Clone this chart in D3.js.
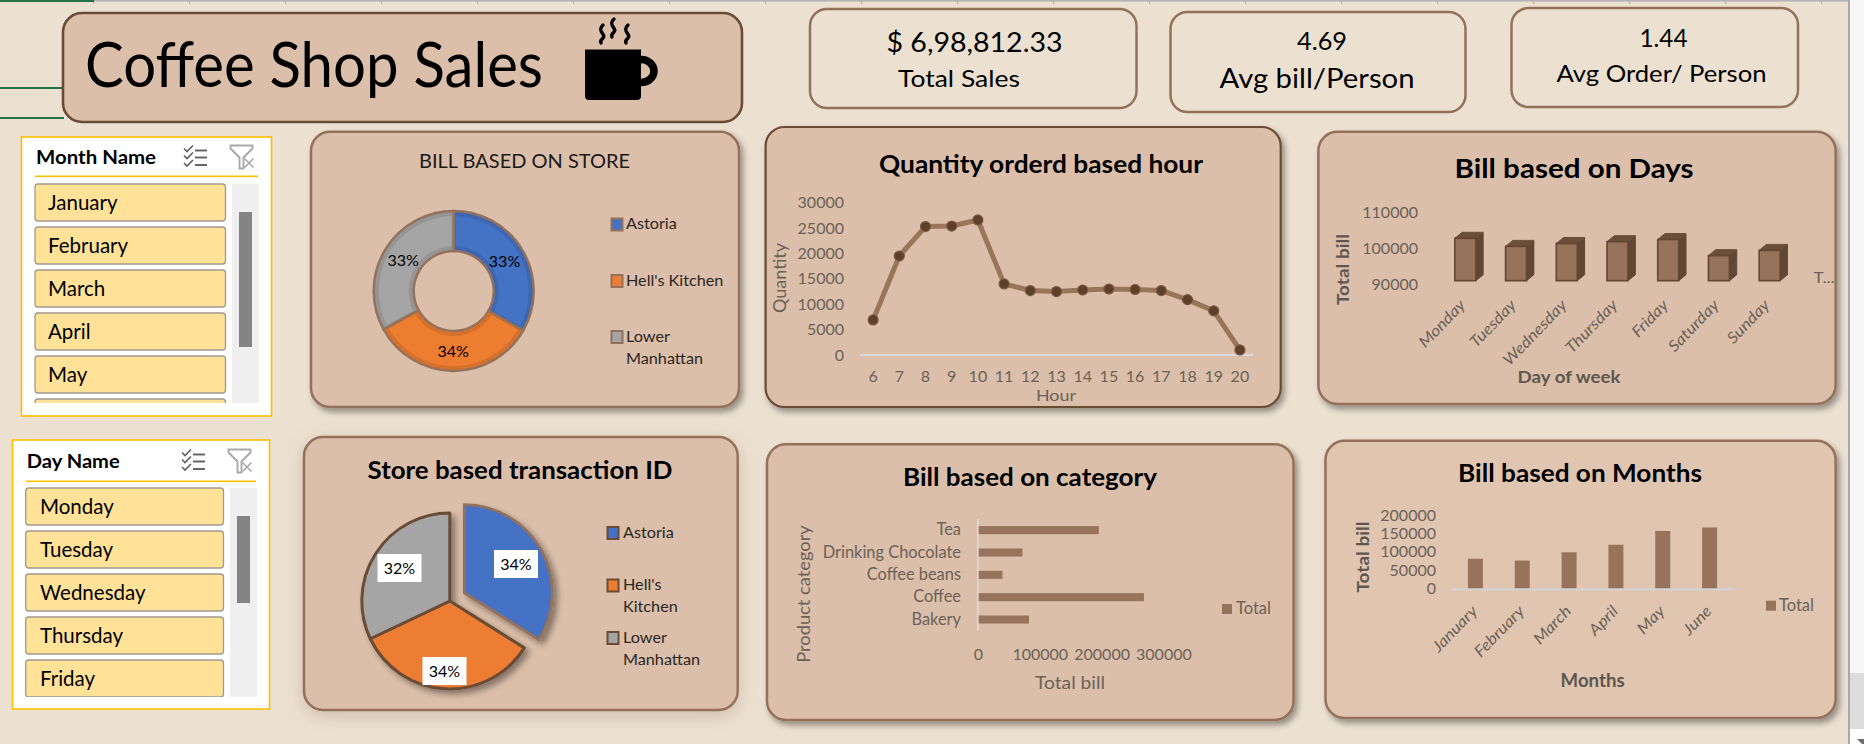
<!DOCTYPE html>
<html><head><meta charset="utf-8">
<style>html,body{margin:0;padding:0;background:#ece1d1;overflow:hidden}svg{display:block}text{font-family:Lato,"Open Sans",sans-serif}</style>
<script src="https://d3js.org/d3.v7.min.js"></script></head><body>
<svg id="c" width="1864" height="744"></svg>
<script>
const kpiValues=["$ 6,98,812.33","4.69","1.44"];
const kpiLabels=["Total Sales","Avg bill/Person","Avg Order/ Person"];
const monthSlicer=["January","February","March","April","May","June"];
const daySlicer=["Monday","Tuesday","Wednesday","Thursday","Friday"];
const stores=["Astoria","Hell's Kitchen","Lower Manhattan"];
const storeBill=[232000,236500,230000];
const storeTransactions=[50600,50700,47800];
const storeColors=["#4472c4","#ed7d31","#a5a5a5"];
const hours=[6,7,8,9,10,11,12,13,14,15,16,17,18,19,20];
const quantity=[6900,19500,25300,25400,26600,14000,12700,12500,12800,13000,12900,12700,10900,8700,1000];
const quantityTicks=[0,5000,10000,15000,20000,25000,30000];
const days=["Monday","Tuesday","Wednesday","Thursday","Friday","Saturday","Sunday"];
const dayBill=[101680,99450,100250,100750,101350,96900,98350];
const dayTicks=[90000,100000,110000];
const categories=["Tea","Drinking Chocolate","Coffee beans","Coffee","Bakery"];
const categoryBill=[195500,72000,39500,268500,82500];
const categoryTicks=[0,100000,200000,300000];
const months=["January","February","March","April","May","June"];
const monthBill=[81000,76000,98500,119000,156500,166000];
const monthTicks=[0,50000,100000,150000,200000];

const svg=d3.select("#c");
const defs=svg.append("defs");
function shadow(id,dx,dy,sd,op,col){
  const f=defs.append("filter").attr("id",id).attr("x","-15%").attr("y","-15%").attr("width","130%").attr("height","130%");
  f.append("feDropShadow").attr("dx",dx).attr("dy",dy).attr("stdDeviation",sd).attr("flood-color",col||"#000").attr("flood-opacity",op);
}
shadow("sh",3,4,3,.38);
shadow("glow",0,5,9,.3,"#8a6a50");
shadow("pieS",4,4,3,.4);
const CARD="#dbbfaa",EDGE="#94715a",DARK="#6a4b35",AX="#6c6157",BAR="#96735a";
function card(x0,y0,x1,y1,o={}){
  return svg.append("rect").attr("x",x0).attr("y",y0).attr("width",x1-x0).attr("height",y1-y0)
    .attr("rx",o.r||19).attr("fill",o.fill||CARD).attr("stroke",o.stroke||EDGE).attr("stroke-width",o.sw||2.5)
    .attr("filter",o.filter?`url(#${o.filter})`:null);
}
function txt(p,x,y,s,o={}){
  const t=p.append("text").attr("x",x).attr("y",y).text(s).attr("font-size",o.size||16)
    .attr("font-weight",o.weight||400).attr("text-anchor",o.anchor||"start").attr("fill",o.fill||"#000");
  if(o.width) t.attr("textLength",o.width).attr("lengthAdjust","spacingAndGlyphs");
  if(o.rot) t.attr("transform",`rotate(${o.rot} ${x} ${y})`);
  return t;
}
function tickStyle(g,size){
  g.select(".domain").remove();g.selectAll(".tick line").remove();
  g.selectAll("text").attr("font-size",size||16).attr("fill",AX).attr("font-family","Lato");
}
function slantLabels(g,dx){
  g.selectAll("text").attr("dy",0).attr("y",0).attr("x",0).attr("text-anchor","end")
    .attr("font-style","italic").attr("font-size",15.5)
    .attr("transform",`translate(${dx},0) rotate(-46) scale(1.12,1)`);
}

/* sheet chrome */
svg.append("rect").attr("width",1864).attr("height",744).attr("fill","#ece1d1");
svg.append("rect").attr("width",1848).attr("height",1.6).attr("fill","#b4b4b4");
d3.range(93,1840,96).forEach(x=>svg.append("rect").attr("x",x).attr("y",0).attr("width",1.2).attr("height",4).attr("fill","#b4b4b4"));
svg.append("rect").attr("width",94).attr("height",2).attr("fill","#217346");
[87,117].forEach(y=>svg.append("rect").attr("y",y).attr("width",64).attr("height",2).attr("fill","#217346"));
svg.append("rect").attr("x",1848).attr("width",16).attr("height",744).attr("fill","#f7f7f7");
svg.append("rect").attr("x",1848).attr("width",2).attr("height",744).attr("fill","#a9a9a9");
svg.append("rect").attr("x",1850).attr("y",673).attr("width",14).attr("height",56).attr("fill","#dcdcdc");
svg.append("rect").attr("x",1850).attr("y",729).attr("width",14).attr("height",15).attr("fill","#fff");
svg.append("path").attr("d","M1857 739L1864 739L1864 744L1862 744Z").attr("fill","#6e6e6e");

/* header */
card(63,13,742,122,{stroke:DARK,sw:2.6});
txt(svg,85,87,"Coffee Shop Sales",{size:62,width:458});
const mug=svg.append("g");
mug.append("path").attr("d","M585 49.5H641V96Q641 100 637 100H589Q585 100 585 96Z").attr("fill","#000");
mug.append("path").attr("d","M641 59.5A13 11.5 0 0 1 641 82.5").attr("fill","none").attr("stroke","#000").attr("stroke-width",7.5);
[[601,25],[612,19],[626,25]].forEach(([x,y])=>mug.append("path")
  .attr("d",`M${x+2} ${y}C${x-5} ${y+6} ${x+6} ${y+10} ${x+2} ${y+13}C${x} ${y+15} ${x-1} ${y+16} ${x} ${y+18}`)
  .attr("fill","none").attr("stroke","#000").attr("stroke-width",3.4).attr("stroke-linecap","round"));

/* KPI cards */
const kpiBoxes=[[810,9,1136.5,108],[1170.5,12,1465.5,112],[1511.5,8,1798,107]];
const kpiValPos=[[974.5,52,176],[1322,50,50],[1663.5,47,48]];
const kpiLabPos=[[959,87,122],[1317,88,195],[1661.5,82,210]];
kpiBoxes.forEach((b,i)=>{
  card(b[0],b[1],b[2],b[3],{fill:"#ece1d1",r:17});
  txt(svg,kpiValPos[i][0],kpiValPos[i][1],kpiValues[i],{size:i?25:27,anchor:"middle",width:kpiValPos[i][2]});
  txt(svg,kpiLabPos[i][0],kpiLabPos[i][1],kpiLabels[i],{size:i==0?23:i==1?27:24,anchor:"middle",width:kpiLabPos[i][2]});
});

/* slicers */
function slicer(o){
  svg.append("rect").attr("x",o.x0).attr("y",o.y0).attr("width",o.x1-o.x0).attr("height",o.y1-o.y0).attr("fill","#fff").attr("stroke","#fdbf00").attr("stroke-width",1.6);
  txt(svg,o.hx,o.hy,o.title,{size:19.5,weight:700,width:o.hw});
  svg.append("rect").attr("x",o.lx0).attr("y",o.ly).attr("width",o.lx1-o.lx0).attr("height",1.6).attr("fill","#fdbf00");
  const ic=svg.append("g").attr("fill","none").attr("stroke","#5f5f5f").attr("stroke-width",1.6);
  [0,7,14.5].forEach(d=>{
    ic.append("path").attr("d",`M${o.ix} ${o.iy+3+d}l3 3l6 -6`);
    ic.append("path").attr("d",`M${o.ix+11} ${o.iy+5+d}h12`).attr("stroke-width",1.9);
  });
  const fl=svg.append("g").attr("fill","none").attr("stroke","#a9a9a9").attr("stroke-width",1.9);
  fl.append("path").attr("d",`M${o.fx} ${o.iy}h22v3l-9 9v11h-4v-11l-9 -9z`);
  fl.append("path").attr("d",`M${o.fx+14} ${o.iy+13}l9 9M${o.fx+23} ${o.iy+13}l-9 9`).attr("stroke-width",1.6);
  const id="clip"+o.title.slice(0,1);
  defs.append("clipPath").attr("id",id).append("rect").attr("x",o.bx0-2).attr("y",o.by-2).attr("width",o.bx1-o.bx0+4).attr("height",o.clipH+2);
  const g=svg.append("g").attr("clip-path",`url(#${id})`);
  o.items.forEach((m,i)=>{
    const y=o.by+43*i;
    g.append("rect").attr("x",o.bx0).attr("y",y).attr("width",o.bx1-o.bx0).attr("height",37).attr("rx",3)
      .attr("fill","#ffe298").attr("stroke","#a09a8c").attr("stroke-width",1.3);
    txt(g,o.tx,y+26,m,{size:20.5});
  });
  svg.append("rect").attr("x",o.sx).attr("y",o.by).attr("width",27).attr("height",o.clipH).attr("fill","#efefef");
  svg.append("rect").attr("x",o.sx+7).attr("y",o.ty0).attr("width",13).attr("height",o.ty1-o.ty0).attr("fill","#848484");
}
slicer({x0:21.5,y0:137,x1:271.5,y1:416,title:"Month Name",hx:36,hy:164,hw:120,lx0:35,lx1:258,ly:175.5,ix:184,iy:145.5,fx:230.5,
  bx0:35,bx1:225.5,by:184,clipH:219,items:monthSlicer,tx:48,sx:232,ty0:212,ty1:347});
slicer({x0:12.5,y0:440,x1:269.5,y1:709,title:"Day Name",hx:26.7,hy:468,hw:93,lx0:26,lx1:256,ly:480.5,ix:182,iy:449.5,fx:228.5,
  bx0:25.7,bx1:223.5,by:488,clipH:209,items:daySlicer,tx:40,sx:230,ty0:516,ty1:603});

/* legend helper */
function legend(entries,sx,tx,size,stroke){
  entries.forEach(e=>{
    svg.append("rect").attr("x",sx).attr("y",e.y).attr("width",11).attr("height",12)
      .attr("fill",e.color).attr("stroke",stroke).attr("stroke-width",2);
    e.lines.forEach((l,i)=>txt(svg,tx,e.y+10.8+i*22,l,{size:size,fill:"#2c2623"}));
  });
}

/* donut */
card(311,131.7,739,407,{filter:"sh"});
txt(svg,524.5,168,"BILL BASED ON STORE",{size:19,anchor:"middle",width:211,fill:"#1c1917"});
const donut=svg.append("g").attr("transform","translate(453.7,291)");
const pieD=d3.pie().sort(null)(storeBill);
const darken=c=>d3.color(c).darker(.28).formatHex();
donut.selectAll(".o").data(pieD).join("path").attr("d",d3.arc().innerRadius(40).outerRadius(80))
  .attr("fill",(d,i)=>darken(storeColors[i])).attr("stroke",EDGE).attr("stroke-width",2.4);
donut.selectAll(".i").data(pieD).join("path").attr("d",d3.arc().innerRadius(45).outerRadius(75).padAngle(.07).padRadius(60))
  .attr("fill",(d,i)=>storeColors[i]);
const labD=d3.arc().innerRadius(60).outerRadius(60);
const pctD=d3.format(".0%"),sumD=d3.sum(storeBill);
pieD.forEach((d,i)=>{const c=labD.centroid(d);
  txt(donut,c[0]+(i==0?-1:i==2?1:0),c[1]+(i==1?6.5:6),pctD(d.value/sumD),{size:16,anchor:"middle"});});
legend([{y:218.5,color:storeColors[0],lines:["Astoria"]},{y:275,color:storeColors[1],lines:["Hell's Kitchen"]},{y:331,color:storeColors[2],lines:["Lower","Manhattan"]}],611.5,626,16.2,EDGE);

/* line chart */
card(765.6,127,1280.7,407,{filter:"sh",stroke:DARK,sw:2.2});
txt(svg,1041,173,"Quantity orderd based hour",{size:24,weight:700,anchor:"middle",width:324});
const xH=d3.scaleBand().domain(hours).range([860,1253]);
const yQ=d3.scaleLinear().domain([0,30000]).range([355,202.7]);
svg.append("g").attr("transform","translate(860,0)").call(d3.axisLeft(yQ).tickValues(quantityTicks).tickSize(0).tickPadding(16).tickFormat(d3.format("d"))).call(tickStyle);
svg.append("g").attr("transform","translate(0,355)").call(d3.axisBottom(xH).tickSize(0).tickPadding(15.3)).call(tickStyle);
svg.append("line").attr("x1",860).attr("x2",1253).attr("y1",355).attr("y2",355).attr("stroke","#d9d9d9").attr("stroke-width",2.2);
const cx=h=>xH(h)+xH.bandwidth()/2;
svg.append("path").datum(hours.map((h,i)=>[h,quantity[i]])).attr("fill","none").attr("stroke","#9a7659").attr("stroke-width",5).attr("stroke-linejoin","round")
  .attr("d",d3.line().x(d=>cx(d[0])).y(d=>yQ(d[1])));
svg.selectAll(".pt").data(hours).join("circle").attr("cx",cx).attr("cy",(h,i)=>yQ(quantity[i])).attr("r",5).attr("fill","#5d4029").attr("stroke","#7a5a42").attr("stroke-width",1.2);
txt(svg,1056,401,"Hour",{size:16,anchor:"middle",fill:AX,width:40});
txt(svg,785.5,278,"Quantity",{size:16.5,anchor:"middle",fill:AX,width:70,rot:-90});

/* days 3D bars */
card(1318.4,131.7,1835.6,404,{filter:"sh"});
txt(svg,1574,178,"Bill based on Days",{size:27,weight:700,anchor:"middle",width:239});
const xD=d3.scaleBand().domain(days).range([1440,1795]).paddingInner(.586).paddingOuter(.293);
const yD=d3.scaleLinear().domain([90000,110000]).range([284.3,212.7]);
const yDb=d3.scaleLinear().domain([90000,110000]).range([280.7,208.1]);
svg.append("g").attr("transform","translate(1434,0)").call(d3.axisLeft(yD).tickValues(dayTicks).tickSize(0).tickPadding(16).tickFormat(d3.format("d"))).call(tickStyle);
const depthX=7.3,depthY=6;
days.forEach((d,i)=>{
  const x=xD(d),w=xD.bandwidth(),t=yDb(dayBill[i]),b=yDb(90000);
  svg.append("path").attr("d",`M${x+w} ${t}l${depthX} ${-depthY}V${b-depthY}l${-depthX} ${depthY}Z`).attr("fill","#5f4734").attr("stroke","#5f4734").attr("stroke-width",1);
  svg.append("path").attr("d",`M${x} ${t}l${depthX} ${-depthY}h${w}l${-depthX} ${depthY}Z`).attr("fill","#6b4f3a").attr("stroke","#6b4f3a").attr("stroke-width",1);
  svg.append("rect").attr("x",x).attr("y",t).attr("width",w).attr("height",b-t).attr("fill",BAR).attr("stroke","#644732").attr("stroke-width",1.6);
});
svg.append("g").attr("transform","translate(0,306)").call(d3.axisBottom(xD).tickSize(0)).call(tickStyle).call(slantLabels,1);
txt(svg,1813.6,282.7,"T...",{size:15,fill:AX,width:21});
txt(svg,1349,269.5,"Total bill",{size:17,weight:700,anchor:"middle",fill:"#5e5650",width:71,rot:-90});
txt(svg,1569,383,"Day of week",{size:17,weight:700,anchor:"middle",fill:"#5e5650",width:103});

/* pie */
card(304,437,737.7,710,{filter:"glow"});
txt(svg,520,479,"Store based transaction ID",{size:25,weight:700,anchor:"middle",width:305});
const pieG=svg.append("g").attr("transform","translate(449.8,601)").attr("filter","url(#pieS)");
const pieT=d3.pie().sort(null)(storeTransactions);
const arcT=d3.arc().innerRadius(0).outerRadius(88);
const pieOff=[[14.5,-8.3],[0,0],[0,0]];
[1,2,0].forEach(i=>pieG.append("path").datum(pieT[i]).attr("d",arcT).attr("transform",`translate(${pieOff[i]})`)
  .attr("fill",storeColors[i]).attr("stroke",i?DARK:EDGE).attr("stroke-width",i?3:2.8).attr("stroke-linejoin","round"));
const sumT=d3.sum(storeTransactions);
const labBase=[[516,550],[444.5,657],[399.5,554]];
pieT.forEach((d,i)=>{
  const [bx,by]=labBase[i];
  svg.append("rect").attr("x",bx-22).attr("y",by).attr("width",44).attr("height",28).attr("fill","#fff");
  txt(svg,bx,by+19.5,pctD(d.value/sumT),{size:16,anchor:"middle"});
});
legend([{y:527,color:storeColors[0],lines:["Astoria"]},{y:579.5,color:storeColors[1],lines:["Hell's","Kitchen"]},{y:632,color:storeColors[2],lines:["Lower","Manhattan"]}],607.5,623,16.2,DARK);

/* category */
card(767,444.3,1293.5,720,{filter:"sh"});
txt(svg,1030,486,"Bill based on category",{size:25,weight:700,anchor:"middle",width:254});
const yC=d3.scaleBand().domain(categories).range([519,630.7]).paddingInner(.64).paddingOuter(.32);
const xC=d3.scaleLinear().domain([0,300000]).range([978,1163.4]);
svg.selectAll(".cb").data(categories).join("rect").attr("x",xC(0)).attr("y",d=>yC(d)).attr("height",yC.bandwidth())
  .attr("width",(d,i)=>xC(categoryBill[i])-xC(0)).attr("fill",BAR);
svg.append("line").attr("x1",978).attr("x2",978).attr("y1",519).attr("y2",630.7).attr("stroke","#e2e2e2").attr("stroke-width",1.3);
svg.append("g").attr("transform","translate(978,0)").call(d3.axisLeft(yC).tickSize(0).tickPadding(17)).call(tickStyle,16.4);
svg.append("g").attr("transform","translate(0,637)").call(d3.axisBottom(xC).tickValues(categoryTicks).tickSize(0).tickPadding(11.7).tickFormat(d3.format("d"))).call(tickStyle);
txt(svg,1070,689,"Total bill",{size:18,anchor:"middle",fill:AX,width:70});
txt(svg,810,594,"Product category",{size:16.5,anchor:"middle",fill:AX,width:137.6,rot:-90});
svg.append("rect").attr("x",1222).attr("y",604).attr("width",10).attr("height",10).attr("fill",BAR);
txt(svg,1236,614,"Total",{size:16.5,fill:AX});

/* months */
card(1325.5,440.7,1835.6,718,{filter:"sh",fill:"#e0c5b1"});
txt(svg,1580,482,"Bill based on Months",{size:25,weight:700,anchor:"middle",width:244});
const xM=d3.scaleBand().domain(months).range([1452,1733]).paddingInner(.68).paddingOuter(.34);
const yM=d3.scaleLinear().domain([0,200000]).range([588.5,515]);
svg.append("g").attr("transform","translate(1452,0)").call(d3.axisLeft(yM).tickValues(monthTicks).tickSize(0).tickPadding(16).tickFormat(d3.format("d"))).call(tickStyle);
svg.selectAll(".mb").data(months).join("rect").attr("x",d=>xM(d)).attr("width",xM.bandwidth())
  .attr("y",(d,i)=>yM(monthBill[i])).attr("height",(d,i)=>yM(0)-yM(monthBill[i])).attr("fill",BAR);
svg.append("line").attr("x1",1452).attr("x2",1733).attr("y1",589.5).attr("y2",589.5).attr("stroke","#d3d3d3").attr("stroke-width",2);
svg.append("g").attr("transform","translate(0,612)").call(d3.axisBottom(xM).tickSize(0)).call(tickStyle).call(slantLabels,3);
txt(svg,1368.5,557,"Total bill",{size:17,weight:700,anchor:"middle",fill:"#5e5650",width:71,rot:-90});
txt(svg,1592.6,687,"Months",{size:18,weight:700,anchor:"middle",fill:"#5e5650",width:64});
svg.append("rect").attr("x",1766).attr("y",600.7).attr("width",10).attr("height",10).attr("fill",BAR);
txt(svg,1779,610.7,"Total",{size:16.5,fill:AX});
</script></body></html>
